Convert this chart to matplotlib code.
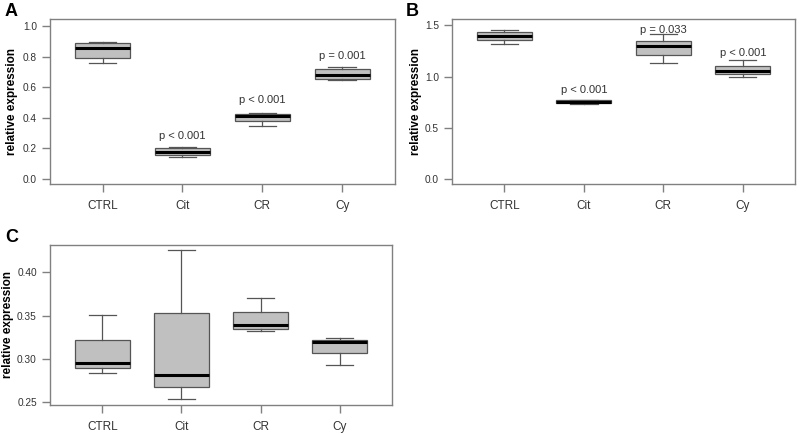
import matplotlib.pyplot as plt

plt.rcParams['font.family'] = ['Liberation Sans', 'DejaVu Sans']

groups = ['CTRL', 'Cit', 'CR', 'Cy']

# panel A
a_lo = [0.757, 0.141, 0.348, 0.648]
a_q1 = [0.789, 0.152, 0.378, 0.654]
a_med = [0.854, 0.174, 0.413, 0.680]
a_q3 = [0.887, 0.198, 0.422, 0.717]
a_hi = [0.893, 0.207, 0.428, 0.735]
a_p = ['', 'p < 0.001', 'p < 0.001', 'p = 0.001']
a_py = [None, 0.283, 0.513, 0.804]

# panel B
b_lo = [1.320, 0.730, 1.131, 0.994]
b_q1 = [1.360, 0.745, 1.213, 1.021]
b_med = [1.399, 0.755, 1.294, 1.050]
b_q3 = [1.431, 0.768, 1.350, 1.099]
b_hi = [1.457, 0.775, 1.412, 1.157]
b_p = ['', 'p < 0.001', 'p = 0.033', 'p < 0.001']
b_py = [None, 0.864, 1.451, 1.229]

# panel C
c_lo = [0.283, 0.253, 0.332, 0.293]
c_q1 = [0.289, 0.267, 0.335, 0.307]
c_med = [0.295, 0.281, 0.339, 0.319]
c_q3 = [0.322, 0.353, 0.354, 0.322]
c_hi = [0.351, 0.4255, 0.371, 0.324]

fig = plt.figure(figsize=(8, 4.34), dpi=100)

frame = '#808080'
txt = '#333333'


def panel(rect, lo, q1, med, q3, hi, ylim, yticks, yfmt, letter, lpos, labx, plabels=None, py=None):
    ax = fig.add_axes(rect)
    stats = []
    for i in range(len(groups)):
        stats.append(dict(whislo=lo[i], q1=q1[i], med=med[i], q3=q3[i], whishi=hi[i], fliers=[]))
    ax.bxp(stats, positions=[1, 2, 3, 4], widths=0.69, patch_artist=True,
           boxprops=dict(facecolor='#c0c0c0', edgecolor='#555555', linewidth=0.9),
           medianprops=dict(color='black', linewidth=2.2),
           whiskerprops=dict(color='#555555', linewidth=0.9),
           capprops=dict(color='#555555', linewidth=0.9),
           capwidths=0.345)
    ax.set_xlim(0.34, 4.66)
    ax.set_ylim(*ylim)
    ax.set_xticks([1, 2, 3, 4])
    ax.set_xticklabels(groups)
    ax.set_yticks(yticks)
    ax.set_yticklabels([yfmt % v for v in yticks])
    for s in ax.spines.values():
        s.set_color(frame)
        s.set_linewidth(1.0)
    ax.tick_params(axis='both', length=5.5, width=1.0, color=frame, labelcolor=txt)
    ax.tick_params(axis='x', pad=6, labelsize=8.5)
    ax.tick_params(axis='y', pad=4, labelsize=7.3)
    ax.set_ylabel('relative expression', fontsize=8.5, fontweight='bold')
    ax.yaxis.set_label_coords(labx, 0.5)
    fig.text(lpos[0], lpos[1], letter, fontsize=13, fontweight='bold', ha='left', va='top')
    if plabels:
        for i, t in enumerate(plabels):
            if t:
                ax.text(i + 1, py[i], t, ha='center', va='center', fontsize=8, color=txt)
    return ax


panel([0.0625, 0.576, 0.431, 0.380], a_lo, a_q1, a_med, a_q3, a_hi,
      (-0.035, 1.046), [0.0, 0.2, 0.4, 0.6, 0.8, 1.0], '%.1f', 'A', (0.006, 0.993), -0.093, a_p, a_py)
panel([0.565, 0.576, 0.429, 0.380], b_lo, b_q1, b_med, b_q3, b_hi,
      (-0.052, 1.562), [0.0, 0.5, 1.0, 1.5], '%.1f', 'B', (0.507, 0.993), -0.086, b_p, b_py)
panel([0.0625, 0.0668, 0.4275, 0.369], c_lo, c_q1, c_med, c_q3, c_hi,
      (0.2465, 0.432), [0.25, 0.30, 0.35, 0.40], '%.2f', 'C', (0.006, 0.472), -0.104)

fig.savefig('out.png', dpi=100)
